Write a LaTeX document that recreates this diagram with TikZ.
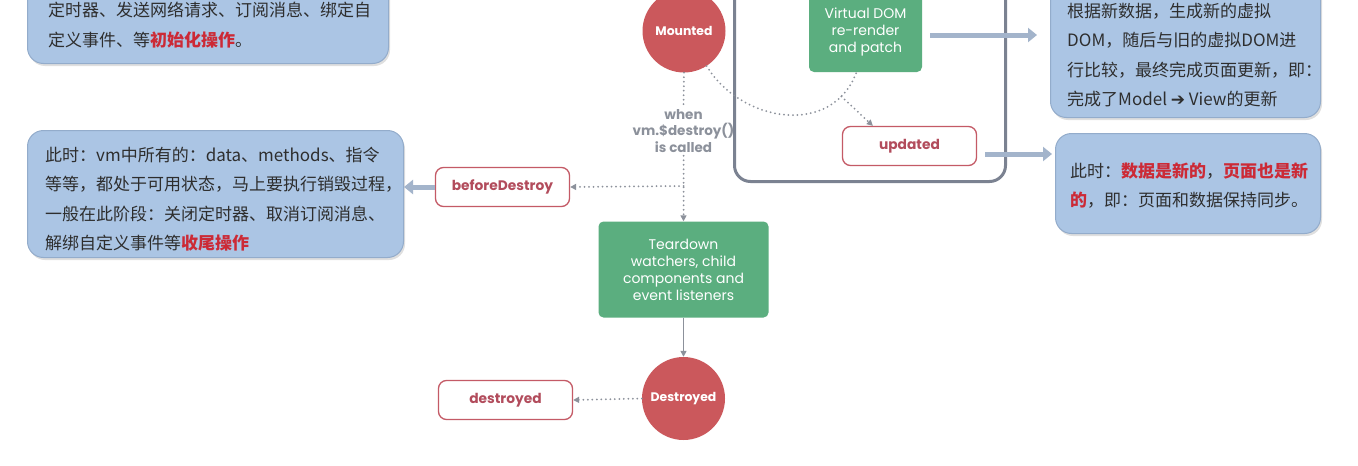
\documentclass[tikz,border=0pt]{standalone}
\usepackage{fontspec}
\setmainfont{Noto Sans CJK SC}
\newfontfamily\lab{Poppins}
\newfontfamily\dv{DejaVu Sans}
\usetikzlibrary{shadows,arrows.meta,calc}
\definecolor{boxblue}{HTML}{ABC5E4}
\definecolor{bluedraw}{HTML}{93ACCB}
\definecolor{textc}{HTML}{2E2E2E}
\definecolor{hl}{HTML}{CC2A36}
\definecolor{circred}{HTML}{CB585C}
\definecolor{procgreen}{HTML}{5BAE7F}
\definecolor{hookred}{HTML}{C45A66}
\definecolor{hooktext}{HTML}{B24C5C}
\definecolor{linegray}{HTML}{8C919B}
\definecolor{framegray}{HTML}{7B8291}
\definecolor{arrowc}{HTML}{A3B4CB}
\begin{document}
\begin{tikzpicture}[x=1pt,y=-1pt,
  bluebox/.style={draw=bluedraw, fill=boxblue, line width=1pt, rounded corners=16pt, inner sep=0pt,
    drop shadow={opacity=0.25, shadow xshift=1.5pt, shadow yshift=-2.5pt}},
  txt/.style={font=\fontsize{17}{29.5}\selectfont, align=left, anchor=west, inner sep=0pt, text=textc},
  hook/.style={draw=hookred, fill=white, line width=1.3pt, rounded corners=8pt, minimum width=134pt,
    minimum height=39pt, font=\lab\bfseries\fontsize{13.8}{15}\selectfont, text=hooktext},
  state/.style={circle, fill=circred, minimum size=83pt, inner sep=0pt,
    font=\lab\bfseries\fontsize{12.4}{14}\selectfont, text=white},
  proc/.style={fill=procgreen, rounded corners=5pt, text=white, align=center, inner sep=0pt,
    font=\lab\fontsize{14}{17}\selectfont},
  dots/.style={draw=linegray, line width=2pt, dash pattern=on 0pt off 4.5pt, line cap=round},
  tip/.style={-{Triangle[length=6pt,width=6pt]}},
  bigarrow/.style={draw=arrowc, line width=5pt, -{Triangle[length=9pt,width=14pt]}}
]
\useasboundingbox (0,0) rectangle (1358,466);
\clip (0,0) rectangle (1358,466);
\fill[white] (0,0) rectangle (1358,466);

% blue boxes
\node[bluebox, anchor=north west, minimum width=361pt, minimum height=103pt] (lb1) at (27,-40) {};
\node[txt] (lt1) at (48,25) {定时器、发送网络请求、订阅消息、绑定自\\定义事件、等{\color{hl}\bfseries 初始化操作}。};

\node[bluebox, anchor=north west, minimum width=376pt, minimum height=127pt] (lb2) at (27,130) {};
\node[txt] (lt2) at (45,199) {此时：vm中所有的：data、methods、指令\\等等，都处于可用状态，马上要执行销毁过程，\\一般在此阶段：关闭定时器、取消订阅消息、\\解绑自定义事件等{\color{hl}\bfseries 收尾操作}};

\node[bluebox, anchor=north west, minimum width=270pt, minimum height=157pt] (rb1) at (1050,-40) {};
\node[txt] (rt1) at (1067,55) {根据新数据，生成新的虚拟\\DOM，随后与旧的虚拟DOM进\\行比较，最终完成页面更新，即：\\完成了Model {\dv\bfseries\fontsize{17}{17}\selectfont ➔} View的更新};

\node[bluebox, anchor=north west, minimum width=265pt, minimum height=100pt] (rb2) at (1055,133) {};
\node[txt] (rt2) at (1070,185.5) {此时：{\color{hl}\bfseries 数据是新的}，{\color{hl}\bfseries 页面也是新}\\{\color{hl}\bfseries 的}，即：页面和数据保持同步。};

% frame of update loop
\node[draw=framegray, line width=3pt, rounded corners=16pt, anchor=south west,
  minimum width=271pt, minimum height=240pt] (frame) at (733,183) {};

% states
\node[state] (mounted) at (684,31) {Mounted};
\node[state] (destroyed) at (683.5,398.5) {Destroyed};

% processes
\node[proc, minimum width=113pt, minimum height=80pt] (vdom) at (865.5,32) {Virtual DOM\\re-render\\and patch};
\node[proc, minimum width=170pt, minimum height=96pt] (teardown) at (683.5,269.5) {Teardown\\watchers, child\\components and\\event listeners};

% hooks
\node[hook] (upd) at (909.5,146) {updated};
\node[hook] (bdestroy) at (502.5,187) {beforeDestroy};
\node[hook] (dd) at (505.5,400) {destroyed};

% label
\node[font=\lab\bfseries\fontsize{13.5}{16.5}\selectfont, text=linegray, align=center, inner sep=3pt] (when) at (683.5,131) {when\\vm.\$destroy()\\is called};
\coordinate (split) at (683.5,186);

% connectors
\draw[dots] (mounted.south) -- (when.north);
\draw[dots, tip] (when.south) -- (teardown.north);
\draw[dots, tip] (split) -- (bdestroy.east);
\draw[draw=linegray, line width=1.5pt, tip] (teardown.south) -- (destroyed.north);
\draw[dots, tip] (destroyed.west) -- (dd.east);
\draw[dots] (mounted.-57) .. controls (740,122) and (832,138) .. coordinate[pos=0.85] (cu) ($(vdom.south)+(-9,0)$);
\draw[dots, tip] (cu) -- ($(upd.north west)+(31,0)$);

\draw[bigarrow] ($(vdom.east)+(8,3)$) -- ($(vdom.east -| rb1.west)+(-13,3)$);
\draw[bigarrow] ($(upd.east)+(8,8)$) -- ($(upd.east -| rb2.west)+(-3,8)$);
\draw[bigarrow] (bdestroy.west) -- (bdestroy.west -| lb2.east);
\end{tikzpicture}
\end{document}
